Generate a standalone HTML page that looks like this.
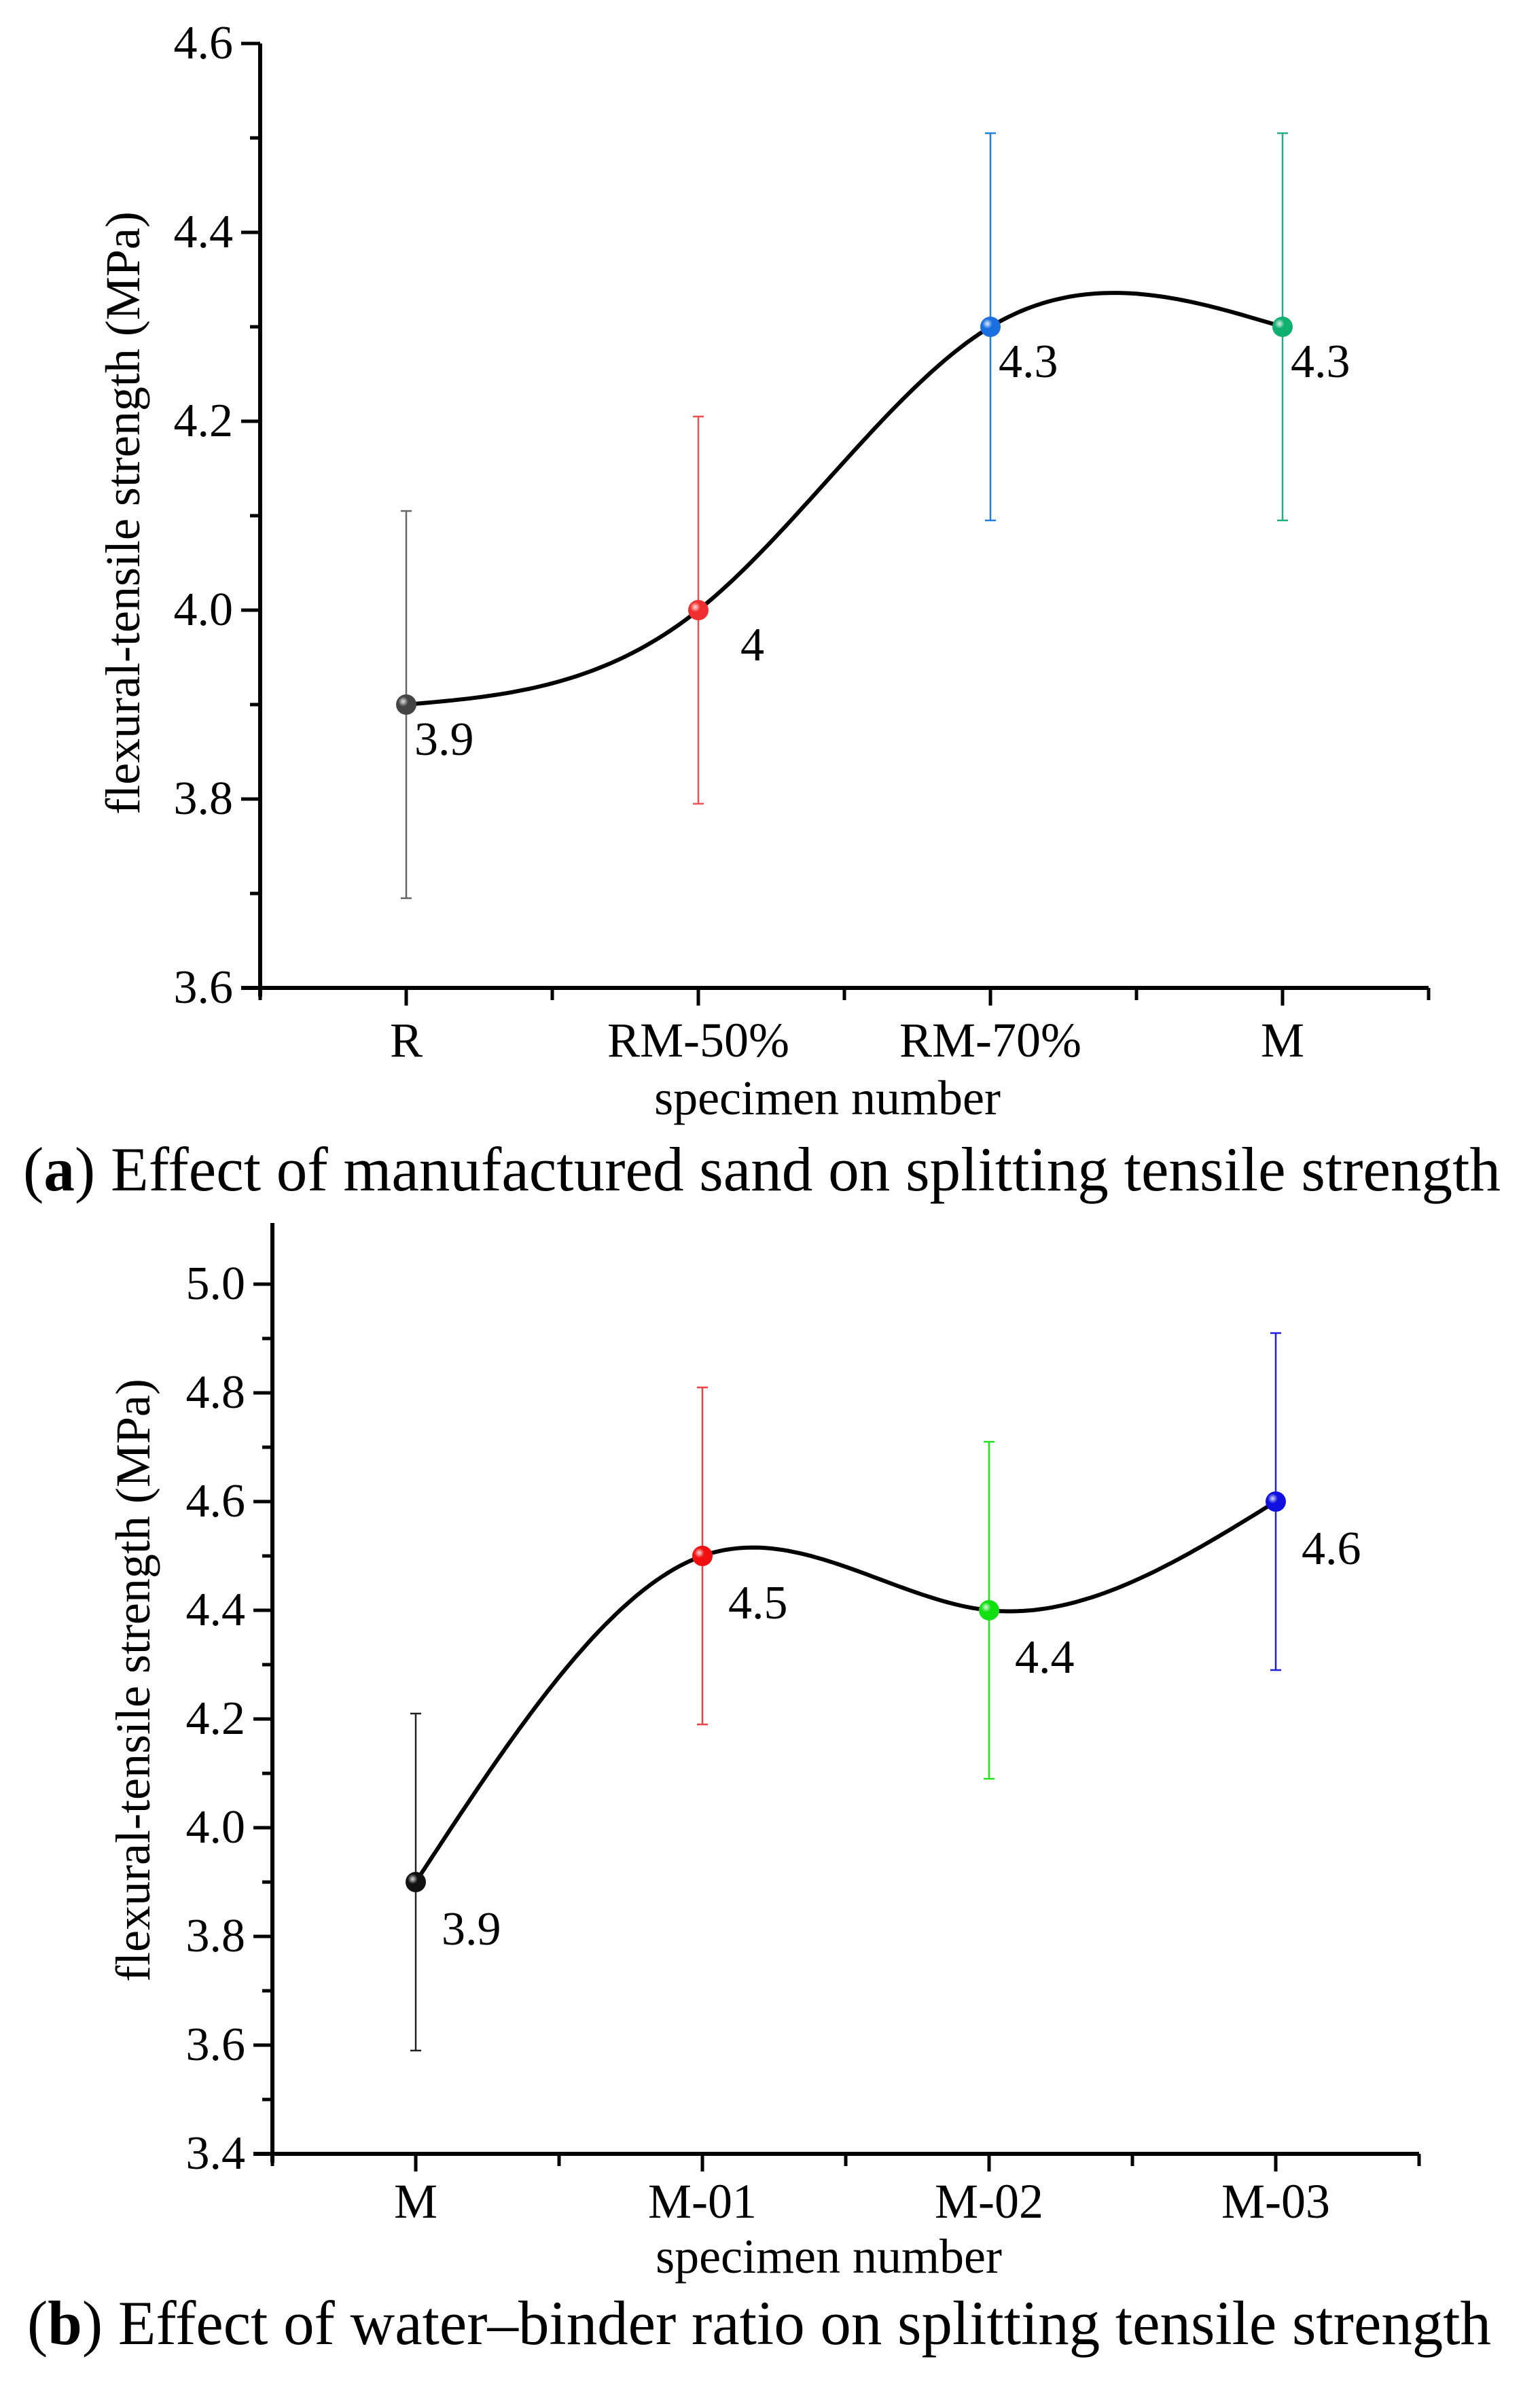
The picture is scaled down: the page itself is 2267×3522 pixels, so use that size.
<!DOCTYPE html>
<html><head><meta charset="utf-8">
<style>
html,body{margin:0;padding:0;background:#fff;}
svg{display:block;}
text{font-family:"Liberation Serif","DejaVu Serif",serif;fill:#000;}
</style></head>
<body>
<svg id="svg" width="2267" height="3522" viewBox="0 0 2267 3522" xmlns="http://www.w3.org/2000/svg">
<defs>
<radialGradient id="shine" cx="0.35" cy="0.35" r="0.7">
<stop offset="0" stop-color="#fff" stop-opacity="0.85"/>
<stop offset="0.35" stop-color="#fff" stop-opacity="0"/>
</radialGradient>
</defs>
<g id="chartA"></g>
<g id="chartB"></g>
<text x="34" y="1752" font-size="92" textLength="2175" lengthAdjust="spacingAndGlyphs">(<tspan font-weight="bold">a</tspan>) Effect of manufactured sand on splitting tensile strength</text>
<text x="40" y="3450" font-size="92" textLength="2155" lengthAdjust="spacingAndGlyphs">(<tspan font-weight="bold">b</tspan>) Effect of water–binder ratio on splitting tensile strength</text>
</svg>
<script>
// Chart A data
const catsA = ["R", "RM-50%", "RM-70%", "M"];
const valsA = [3.9, 4.0, 4.3, 4.3];
const errA = [0.205, 0.205, 0.205, 0.205];
const labelsA = ["3.9", "4", "4.3", "4.3"];
const yTicksA = [3.6, 3.8, 4.0, 4.2, 4.4, 4.6];
// Chart B data
const catsB = ["M", "M-01", "M-02", "M-03"];
const valsB = [3.9, 4.5, 4.4, 4.6];
const errB = [0.31, 0.31, 0.31, 0.31];
const labelsB = ["3.9", "4.5", "4.4", "4.6"];
const yTicksB = [3.4, 3.6, 3.8, 4.0, 4.2, 4.4, 4.6, 4.8, 5.0];

const NS = "http://www.w3.org/2000/svg";
function mk(parent, tag, attrs, txt){
  const e = document.createElementNS(NS, tag);
  for (const k in attrs) e.setAttribute(k, attrs[k]);
  if (txt !== undefined) e.textContent = txt;
  parent.appendChild(e);
  return e;
}
function spline(xs, ys){
  const n = xs.length, h=[], a=[], l=[1], mu=[0], z=[0], c=new Array(n).fill(0), b=[], d=[];
  for (let i=0;i<n-1;i++) h[i]=xs[i+1]-xs[i];
  for (let i=1;i<n-1;i++) a[i]=3/h[i]*(ys[i+1]-ys[i])-3/h[i-1]*(ys[i]-ys[i-1]);
  for (let i=1;i<n-1;i++){ l[i]=2*(xs[i+1]-xs[i-1])-h[i-1]*mu[i-1]; mu[i]=h[i]/l[i]; z[i]=(a[i]-h[i-1]*z[i-1])/l[i]; }
  l[n-1]=1; z[n-1]=0; c[n-1]=0;
  for (let j=n-2;j>=0;j--){ c[j]=z[j]-mu[j]*c[j+1]; b[j]=(ys[j+1]-ys[j])/h[j]-h[j]*(c[j+1]+2*c[j])/3; d[j]=(c[j+1]-c[j])/(3*h[j]); }
  return t => { let i=Math.min(Math.floor(t),n-2); if(i<0)i=0; const dx=t-xs[i]; return ys[i]+b[i]*dx+c[i]*dx*dx+d[i]*dx*dx*dx; };
}
function draw(g, cfg){
  const {cats, vals, errs, labels, ticks, x0, x1, ymin, ymax, py0, py1, axisTop, colors, barColors, lblOff, yTitleX, yTitleY, catY, xTitleY} = cfg;
  const sy = v => py0 + (v - ymin) * (py1 - py0) / (ymax - ymin);
  const step = (x1 - x0) / 4;
  const sx = i => x0 + step/2 + i*step;
  const ax = mk(g,'line',{x1:x0,y1:axisTop,x2:x0,y2:py0+13,stroke:'#000','stroke-width':6});
   
  const bx = mk(g,'line',{x1:x0-28,y1:py0,x2:x1,y2:py0,stroke:'#000','stroke-width':6});
   
  const minorStep = (ticks[1]-ticks[0])/2;
  for (let v=ymin; v<=ymax+1e-9; v+=minorStep){
    const major = ticks.some(t=>Math.abs(t-v)<1e-6);
    const y = sy(v);
    mk(g,'line',{x1:x0-(major?28:15),y1:y,x2:x0,y2:y,stroke:'#000','stroke-width':5});
  }
  ticks.forEach(t=>{
    const tl = mk(g,'text',{x:x0-40,y:sy(t)+22,'font-size':70,'text-anchor':'end'}, t.toFixed(1));
     
  });
  for (let k=0;k<=8;k++){
    const x = x0 + k*step/2;
    const major = k%2===1;
    mk(g,'line',{x1:x,y1:py0,x2:x,y2:py0+(major?26:18),stroke:'#000','stroke-width':5});
  }
  cats.forEach((c,i)=>{
    const t = mk(g,'text',{x:sx(i),y:catY,'font-size':72,'text-anchor':'middle'}, c);
     
  });
  const xt = mk(g,'text',{x:(x0+x1)/2-25,y:xTitleY,'font-size':72,'text-anchor':'middle'},'specimen number');
   
  const yt = mk(g,'text',{x:0,y:0,'font-size':72,'text-anchor':'middle',transform:`translate(${yTitleX},${yTitleY}) rotate(-90)`},'flexural-tensile strength (MPa)');
   
  vals.forEach((v,i)=>{
    const eg = mk(g,'g',{stroke:barColors[i],'stroke-width':2.5});
     
    const x = sx(i), yt2 = sy(v+errs[i]), yb = sy(v-errs[i]);
    mk(eg,'line',{x1:x,y1:yt2,x2:x,y2:yb});
    mk(eg,'line',{x1:x-8,y1:yt2,x2:x+8,y2:yt2});
    mk(eg,'line',{x1:x-8,y1:yb,x2:x+8,y2:yb});
  });
  const f = spline(vals.map((_,i)=>i), vals);
  let d = '';
  for (let t=0; t<=3.0001; t+=0.02){ d += (d?'L':'M') + sx(t).toFixed(1) + ',' + sy(f(t)).toFixed(1); }
  const cv = mk(g,'path',{d, fill:'none', stroke:'#000','stroke-width':6});
   
  vals.forEach((v,i)=>{
    const m = mk(g,'circle',{cx:sx(i),cy:sy(v),r:15,fill:colors[i]});
     
    mk(g,'circle',{cx:sx(i),cy:sy(v),r:15,fill:'url(#shine)'});
    const lb = mk(g,'text',{x:sx(i)+lblOff[i][0],y:sy(v)+lblOff[i][1],'font-size':70}, labels[i]);
     
  });
}
draw(document.getElementById('chartA'), {
  cats:catsA, vals:valsA, errs:errA, labels:labelsA, ticks:yTicksA,
  x0:383, x1:2103, ymin:3.6, ymax:4.6, py0:1454, py1:64, axisTop:64,
  colors:['#444','#f03030','#1a70e0','#10b070'],
  barColors:['#666','#f05050','#2080e0','#20b080'],
  lblOff:[[12,74],[62,74],[12,74],[12,74]],
  yTitleX:205, yTitleY:755, catY:1555, xTitleY:1640
});
draw(document.getElementById('chartB'), {
  cats:catsB, vals:valsB, errs:errB, labels:labelsB, ticks:yTicksB,
  x0:401, x1:2089, ymin:3.4, ymax:5.0, py0:3170, py1:1890, axisTop:1800,
  colors:['#111','#f01010','#10e010','#1010e0'],
  barColors:['#222','#f04040','#20e020','#2020e0'],
  lblOff:[[38,92],[38,92],[38,92],[38,92]],
  yTitleX:220, yTitleY:2473, catY:3264, xTitleY:3345
});
</script>
</body></html>
